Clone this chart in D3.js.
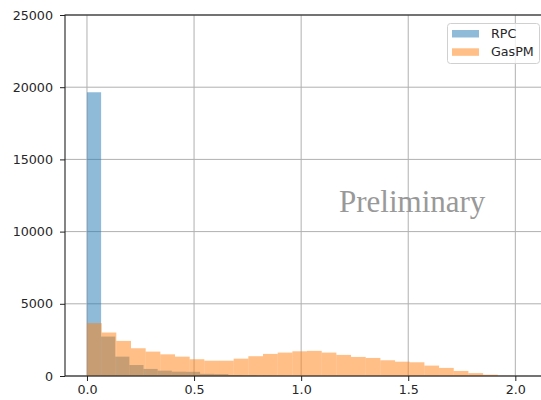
<!DOCTYPE html>
<html>
<head>
<meta charset="utf-8">
<script src="https://cdn.jsdelivr.net/npm/d3@7/dist/d3.min.js"></script>
<style>
  html, body { margin: 0; padding: 0; background: #fff; }
  svg { display: block; }
  text { font-family: "DejaVu Sans", sans-serif; fill: #262626; }
</style>
</head>
<body>
<svg id="chart" width="541" height="400"></svg>
<script>
// Histogram bin counts (bins start at 0, fixed width per series)
const rpcBinWidth = 0.066;
const rpcCounts = [19650, 2730, 1340, 760, 490, 370, 300, 290, 150, 130, 70, 40, 20, 10];
const gasBinWidth = 0.0685;
const gasCounts = [3660, 3010, 2430, 1920, 1690, 1500, 1340, 1160, 1060, 1060,
                   1200, 1370, 1530, 1620, 1710, 1740, 1620, 1460, 1320, 1250,
                   1090, 990, 950, 720, 560, 350, 200, 90, 20, 5];
const seriesNames = ["RPC", "GasPM"];
const seriesColors = ["#1f77b4", "#ff7f0e"];
const xTicks = [0.0, 0.5, 1.0, 1.5, 2.0];
const yTicks = [0, 5000, 10000, 15000, 20000, 25000];
const watermark = "Preliminary";

const svg = d3.select("#chart");
const plot = { left: 65, right: 548, top: 15, bottom: 376 };

const x = d3.scaleLinear().domain([-0.1026, 2.1526]).range([plot.left, plot.right]);
const y = d3.scaleLinear().domain([0, 25000]).range([plot.bottom, plot.top]);

// grid
const grid = svg.append("g").attr("stroke", "#b0b0b0").attr("stroke-width", 1);
xTicks.forEach(t => grid.append("line")
  .attr("x1", x(t)).attr("x2", x(t)).attr("y1", plot.top).attr("y2", plot.bottom));
yTicks.forEach(t => grid.append("line")
  .attr("x1", plot.left).attr("x2", plot.right).attr("y1", y(t)).attr("y2", y(t)));

// bars
function drawHist(counts, width, color) {
  const bins = counts.map((c, i) => ({ x0: i * width, x1: (i + 1) * width, n: c }));
  svg.append("g").selectAll("rect").data(bins).join("rect")
    .attr("x", d => x(d.x0))
    .attr("width", d => x(d.x1) - x(d.x0))
    .attr("y", d => y(d.n))
    .attr("height", d => y(0) - y(d.n))
    .attr("fill", color)
    .attr("fill-opacity", 0.5);
}
drawHist(rpcCounts, rpcBinWidth, seriesColors[0]);
drawHist(gasCounts, gasBinWidth, seriesColors[1]);

// axes
const xAxis = d3.axisBottom(x).tickValues(xTicks).tickFormat(d3.format(".1f"))
  .tickSize(5).tickPadding(4);
const yAxis = d3.axisLeft(y).tickValues(yTicks).tickFormat(d3.format("d"))
  .tickSize(5).tickPadding(7);

const gx = svg.append("g").attr("transform", `translate(0,${plot.bottom})`).call(xAxis);
const gy = svg.append("g").attr("transform", `translate(${plot.left},0)`).call(yAxis);
[gx, gy].forEach(g => {
  g.select(".domain").remove();
  g.selectAll(".tick line").attr("stroke", "#222").attr("stroke-width", 1);
  g.selectAll(".tick text").attr("fill", "#262626")
    .style("font-family", "'DejaVu Sans', sans-serif").style("font-size", "12.7px");
});

// frame
svg.append("rect")
  .attr("x", plot.left).attr("y", plot.top)
  .attr("width", plot.right - plot.left).attr("height", plot.bottom - plot.top)
  .attr("fill", "none").attr("stroke", "#222").attr("stroke-width", 1.1);

// watermark
svg.append("text")
  .attr("x", 339).attr("y", 212)
  .style("font-family", "'Liberation Serif', 'DejaVu Serif', serif")
  .style("font-size", "31px")
  .style("fill", "#999999")
  .text(watermark);

// legend
const lg = svg.append("g");
lg.append("rect")
  .attr("x", 447.5).attr("y", 23.5).attr("width", 92).attr("height", 40).attr("rx", 3)
  .attr("fill", "#fff").attr("fill-opacity", 0.8)
  .attr("stroke", "#d0d0d0").attr("stroke-width", 1);
seriesNames.forEach((name, i) => {
  const yy = 30 + i * 18.3;
  lg.append("rect").attr("x", 452).attr("y", yy).attr("width", 27).attr("height", 7.5)
    .attr("fill", seriesColors[i]).attr("fill-opacity", 0.5);
  lg.append("text").attr("x", 491).attr("y", yy + 7.5)
    .style("font-size", "12.7px").text(name);
});
</script>
</body>
</html>
